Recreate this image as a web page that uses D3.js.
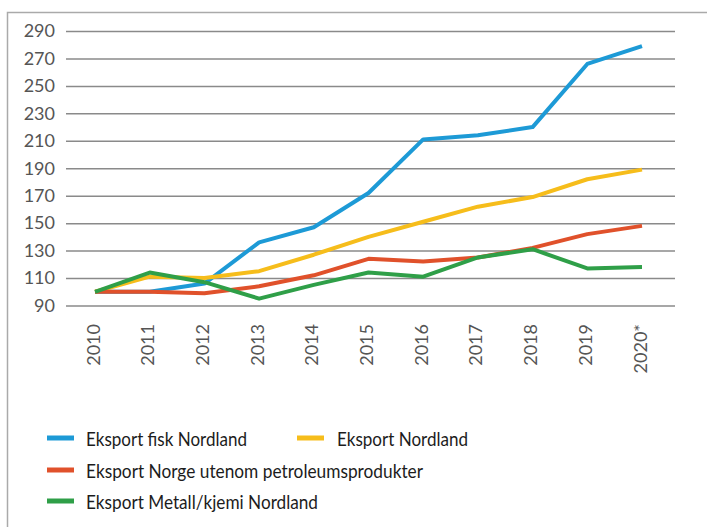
<!DOCTYPE html>
<html>
<head>
<meta charset="utf-8">
<script src="https://cdn.jsdelivr.net/npm/d3@7"></script>
<style>
  body { margin: 0; background: #fff; }
  svg { display: block; }
  .tick-y text, .tick-x text { font-family: "Lato", "Open Sans", sans-serif; fill: #555; font-size: 18px; }
  .legend-text { font-family: "Lato", sans-serif; font-size: 20px; fill: #1c1c1c; }
</style>
</head>
<body>
<svg id="chart" width="707" height="527"></svg>
<script>
var years = ["2010", "2011", "2012", "2013", "2014", "2015", "2016", "2017", "2018", "2019", "2020*"];
var yTicks = [90, 110, 130, 150, 170, 190, 210, 230, 250, 270, 290];

var fisk = [100, 100, 106, 136, 147, 172, 211, 214, 220, 266, 279];
var nordland = [100, 111, 110, 115, 127, 140, 151, 162, 169, 182, 189];
var norge = [100, 100, 99, 104, 112, 124, 122, 125, 132, 142, 148];
var metall = [100, 114, 107, 95, 105, 114, 111, 125, 131, 117, 118];

var seriesNames = ["Eksport fisk Nordland", "Eksport Nordland", "Eksport Norge utenom petroleumsprodukter", "Eksport Metall/kjemi Nordland"];
var seriesColors = ["#1d9ad6", "#f6bd1b", "#e0512b", "#2f9f48"];

var series = [
    { name: seriesNames[0], color: seriesColors[0], values: fisk },
    { name: seriesNames[1], color: seriesColors[1], values: nordland },
    { name: seriesNames[2], color: seriesColors[2], values: norge },
    { name: seriesNames[3], color: seriesColors[3], values: metall }
];

var margin = { left: 66, right: 675, top: 31, bottom: 305.5 };

var svg = d3.select("#chart");

// frame (top + left edge only)
svg.append("path")
    .attr("d", "M7.5,527 L7.5,12.5 L707,12.5")
    .attr("fill", "none")
    .attr("stroke", "#aaa")
    .attr("stroke-width", 1.5);

var x = d3.scalePoint().domain(years).range([95, 642]);
var y = d3.scaleLinear().domain([90, 290]).range([margin.bottom, margin.top]);

// y axis with gridlines
var yAxis = d3.axisLeft(y)
    .tickValues(yTicks)
    .tickSize(-(margin.right - margin.left))
    .tickPadding(11);

var yg = svg.append("g")
    .attr("class", "tick-y")
    .attr("transform", "translate(" + margin.left + ",0)")
    .call(yAxis);
yg.select(".domain").remove();
yg.selectAll("line").attr("stroke", "#8a8a8a").attr("stroke-width", 1.5);
yg.selectAll("text").attr("font-size", 18);

// x labels, rotated
var xg = svg.append("g").attr("class", "tick-x");
xg.selectAll("text")
    .data(years)
    .join("text")
    .attr("transform", d => "translate(" + x(d) + ",324) rotate(-90)")
    .attr("text-anchor", "end")
    .attr("dominant-baseline", "middle")
    .text(d => d);

// lines
var line = d3.line()
    .x((d, i) => x(years[i]))
    .y(d => y(d));

svg.append("g").selectAll("path")
    .data(series)
    .join("path")
    .attr("d", d => line(d.values))
    .attr("fill", "none")
    .attr("stroke", d => d.color)
    .attr("stroke-width", 4)
    .attr("stroke-linejoin", "round");

// legend (condensed face in the original, so squeeze text to its width)
var legendPos = [
    { x: 47, y: 438, w: 161 },
    { x: 297, y: 438, w: 131 },
    { x: 47, y: 470, w: 337 },
    { x: 47, y: 501, w: 232 }
];

var legend = svg.append("g");
var items = legend.selectAll("g")
    .data(series)
    .join("g")
    .attr("transform", (d, i) => "translate(" + legendPos[i].x + "," + legendPos[i].y + ")");

items.append("line")
    .attr("x1", 0)
    .attr("x2", 27)
    .attr("y1", 0)
    .attr("y2", 0)
    .attr("stroke", d => d.color)
    .attr("stroke-width", 5);

items.append("text")
    .attr("class", "legend-text")
    .attr("x", (d, i) => i === 1 ? 40 : 39)
    .attr("y", 0)
    .attr("dominant-baseline", "central")
    .attr("textLength", (d, i) => legendPos[i].w)
    .attr("lengthAdjust", "spacingAndGlyphs")
    .text(d => d.name);
</script>
</body>
</html>
